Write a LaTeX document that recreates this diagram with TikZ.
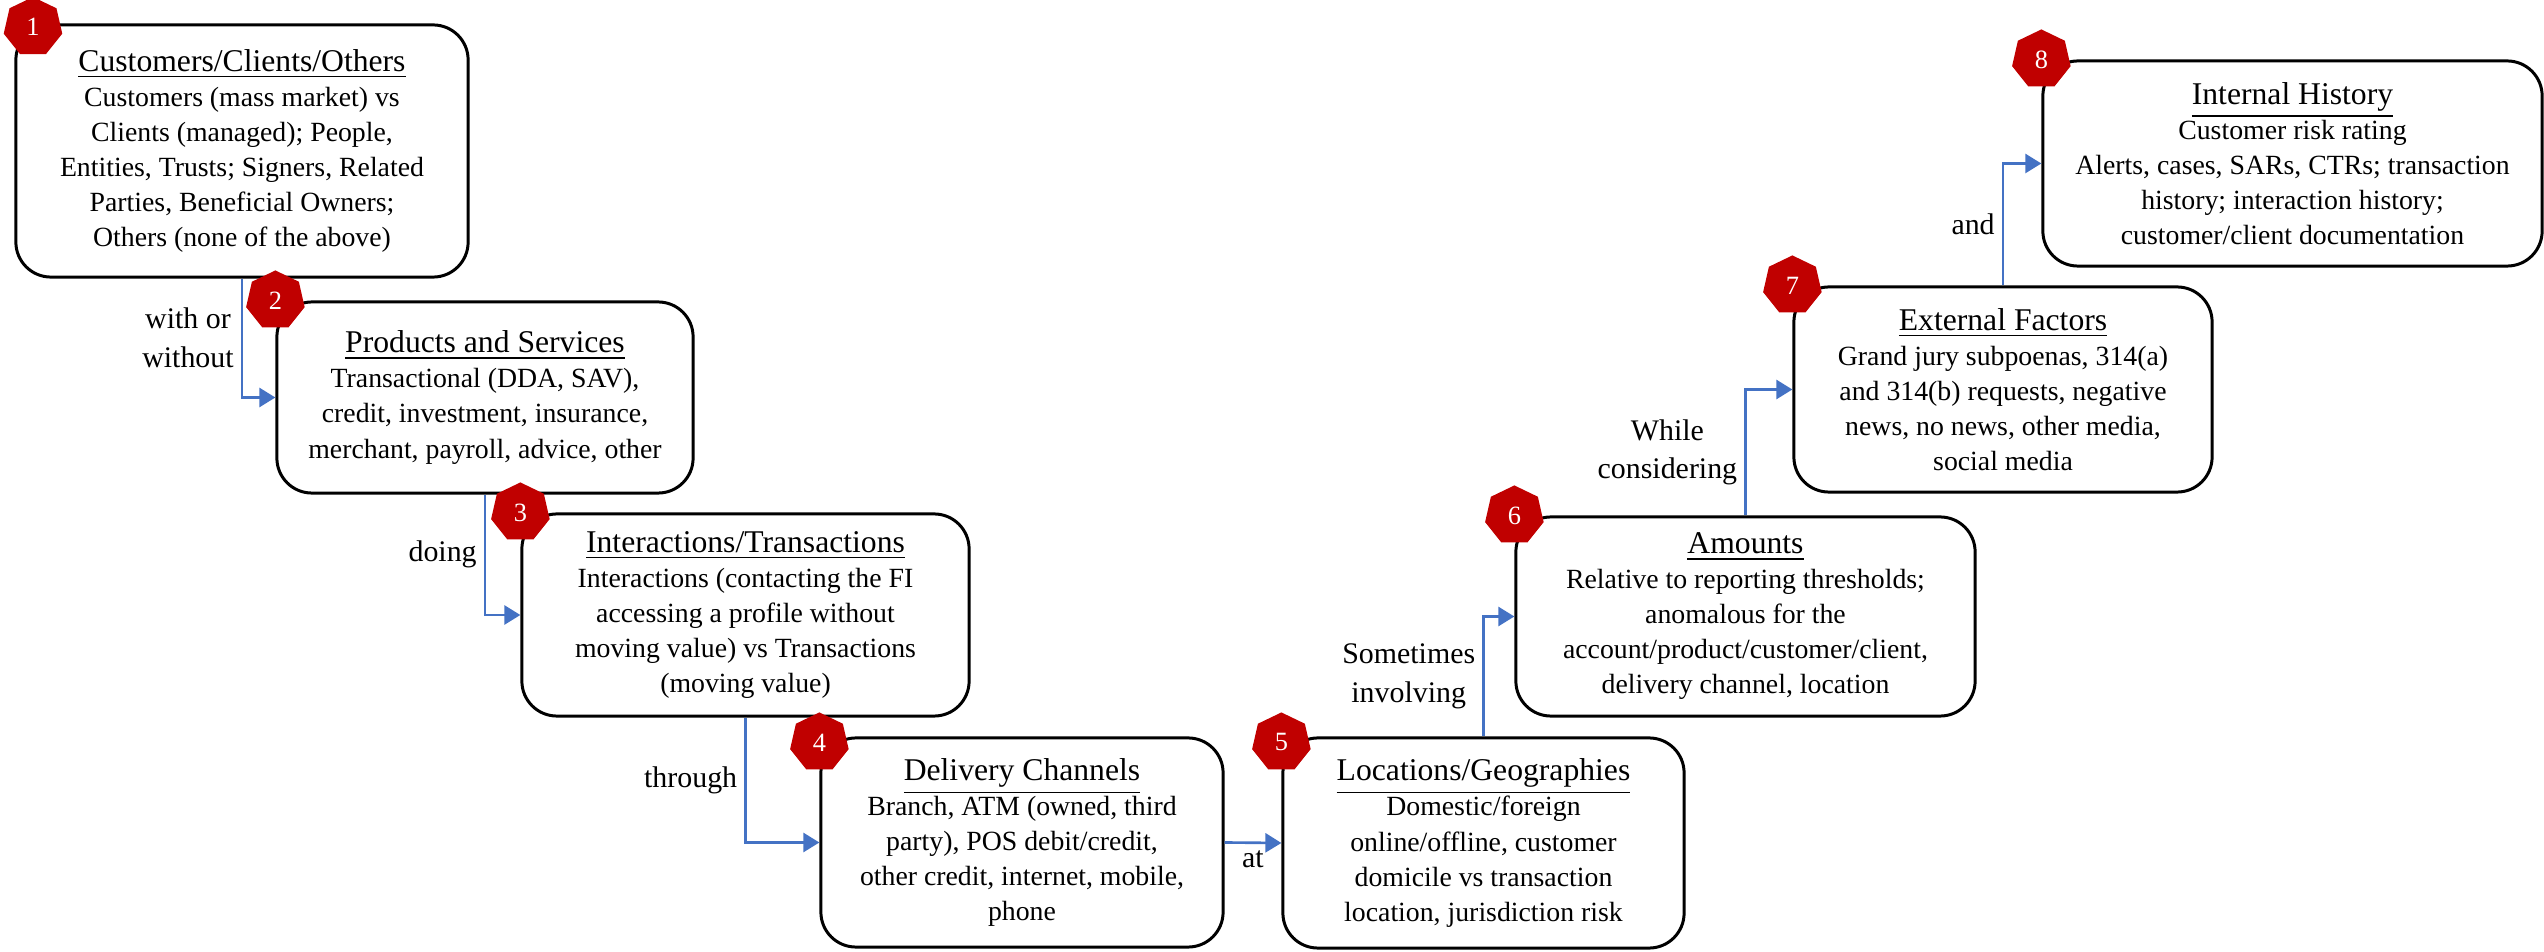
\documentclass[tikz,border=0pt]{standalone}
\usepackage{fontspec}
\setmainfont{Liberation Serif}
\usetikzlibrary{shapes.geometric,arrows.meta}
\definecolor{badgered}{HTML}{C00000}
\definecolor{linkblue}{HTML}{4472C4}
\newcommand{\factorhead}[1]{{\fontsize{9}{9.96}\selectfont\underline{#1}}}
\begin{document}
\begin{tikzpicture}[x=0.01cm,y=-0.01cm]
\tikzstyle{factor}=[draw,line width=0.85pt,rounded corners=0.35cm,align=center,inner sep=0pt,font={\fontsize{7.9}{9.96}\selectfont}]
\tikzstyle{badge}=[regular polygon,regular polygon sides=7,fill=badgered,text=white,minimum size=0.6cm,inner sep=0pt,font={\fontsize{7.5}{8}\selectfont}]
\tikzstyle{link}=[-{Triangle[length=0.16cm,width=0.19cm]},linkblue,line width=0.75pt,to path={|- (\tikztotarget) \tikztonodes}]
\tikzstyle{linklabel}=[text=black,left,align=center,inner sep=2pt,font={\fontsize{8.5}{11}\selectfont}]
\useasboundingbox (0,0) rectangle (2544,952);
\node[factor,minimum width=4.52cm,minimum height=2.52cm] (1) at (242,151)
{\factorhead{Customers/Clients/Others}\\Customers (mass market) vs\\Clients (managed); People,\\Entities, Trusts; Signers, Related\\Parties, Beneficial Owners;\\Others (none of the above)};
\node[factor,minimum width=4.16cm,minimum height=1.91cm] (2) at (485,397.5)
{\factorhead{Products and Services}\\Transactional (DDA, SAV),\\credit, investment, insurance,\\merchant, payroll, advice, other};
\node[factor,minimum width=4.47cm,minimum height=2.02cm] (3) at (745.5,615)
{\factorhead{Interactions/Transactions}\\Interactions (contacting the FI\\accessing a profile without\\moving value) vs Transactions\\(moving value)};
\node[factor,minimum width=4.02cm,minimum height=2.09cm] (4) at (1022,842.5)
{\factorhead{Delivery Channels}\\Branch, ATM (owned, third\\party), POS debit/credit,\\other credit, internet, mobile,\\phone};
\node[factor,minimum width=4.01cm,minimum height=2.10cm] (5) at (1483.5,843)
{\factorhead{Locations/Geographies}\\Domestic/foreign\\online/offline, customer\\domicile vs transaction\\location, jurisdiction risk};
\node[factor,minimum width=4.59cm,minimum height=1.99cm] (6) at (1745.5,616.5)
{\factorhead{Amounts}\\Relative to reporting thresholds;\\anomalous for the\\account/product/customer/client,\\delivery channel, location};
\node[factor,minimum width=4.18cm,minimum height=2.05cm] (7) at (2003,389.5)
{\factorhead{External Factors}\\Grand jury subpoenas, 314(a)\\and 314(b) requests, negative\\news, no news, other media,\\social media};
\node[factor,minimum width=4.99cm,minimum height=2.05cm] (8) at (2292.5,163.5)
{\factorhead{Internal History}\\Customer risk rating\\Alerts, cases, SARs, CTRs; transaction\\history; interaction history;\\customer/client documentation};
% numbered badges
\node[badge] (b1) at (33,27) {1};
\node[badge] (b2) at (2.north west) {2};
\node[badge] (b3) at (3.north west) {3};
\node[badge] (b4) at ([yshift=-0.06cm]4.north west) {4};
\node[badge] (b5) at ([yshift=-0.06cm]5.north west) {5};
\node[badge] (b6) at (6.north west) {6};
\node[badge] (b7) at (7.north west) {7};
\node[badge] (b8) at (8.north west) {8};
% connectors
\path
    (1.south) edge[link] node[linklabel,pos=0.25] {with or\\without} (2.west)
    (2.south) edge[link] node[linklabel,pos=0.25] {doing} (3.west)
    (3.south) edge[link] node[linklabel,pos=0.25] {through} (4.west)
    (4.east) edge[link,to path={-- (\tikztotarget) \tikztonodes}] node[linklabel,below,pos=0.5] {at} (5.west)
    (5.north) edge[link] node[linklabel,pos=0.25] {Sometimes\\involving} (6.west)
    (6.north) edge[link] node[linklabel,pos=0.25] {While\\considering} (7.west)
    (7.north) edge[link] node[linklabel,pos=0.25] {and} (8.west);
\end{tikzpicture}
\end{document}
